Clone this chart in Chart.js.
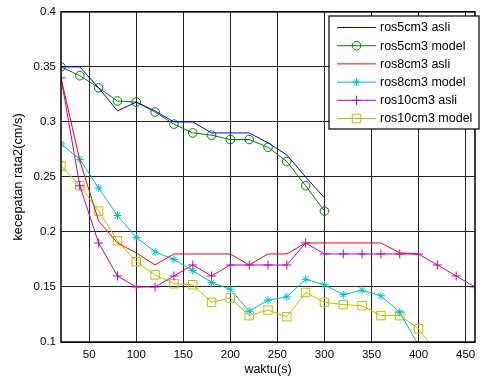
<!DOCTYPE html>
<html>
<head>
<meta charset="utf-8">
<script src="https://cdn.jsdelivr.net/npm/chart.js@4/dist/chart.umd.min.js"></script>
<style>
  html, body { margin: 0; padding: 0; background: #fff; }
  #wrap { width: 482px; height: 377px; position: relative; }
</style>
</head>
<body>
<div id="wrap"><canvas id="c" width="482" height="377"></canvas></div>
<script>
// ---- data ----
const time5 = [20,40,60,80,100,120,140,160,180,200,220,240,260,280,300];
const ros5Asli  = [0.35,0.35,0.331,0.31,0.318,0.31,0.30,0.30,0.29,0.29,0.29,0.281,0.27,0.25,0.231];
const ros5Model = [0.35,0.342,0.331,0.319,0.318,0.309,0.298,0.290,0.288,0.284,0.284,0.277,0.264,0.242,0.219];

const time8 = [20,40,60,80,100,120,140,160,180,200,220,240,260,280,300,320,340,360,380,400];
const ros8Asli  = [0.34,0.265,0.21,0.19,0.181,0.17,0.18,0.18,0.18,0.18,0.17,0.18,0.18,0.19,0.19,0.19,0.19,0.19,0.181,0.18];
const ros8Model = [0.28,0.266,0.240,0.215,0.195,0.182,0.175,0.165,0.154,0.148,0.128,0.138,0.141,0.157,0.152,0.143,0.147,0.142,0.127,0.097];

const time10a = [20,40,60,80,100,120,140,160,180,200,220,240,260,280,300,320,340,360,380,400,420,440,460];
const ros10Asli = [0.34,0.242,0.19,0.16,0.15,0.15,0.16,0.17,0.16,0.17,0.17,0.17,0.17,0.19,0.18,0.18,0.18,0.18,0.18,0.18,0.17,0.16,0.15];
const time10m = [20,40,60,80,100,120,140,160,180,200,220,240,260,280,300,320,340,360,380,400,420];
const ros10Model = [0.26,0.242,0.219,0.192,0.173,0.161,0.153,0.152,0.136,0.140,0.124,0.129,0.123,0.145,0.136,0.134,0.133,0.124,0.124,0.112,0.089];

const xTicks = [50,100,150,200,250,300,350,400,450];
const yTicks = [0.1,0.15,0.2,0.25,0.3,0.35,0.4];
const seriesNames = ['ros5cm3 asli','ros5cm3 model','ros8cm3 asli','ros8cm3 model','ros10cm3 asli','ros10cm3 model'];

function pts(xs, ys) { return xs.map((x, i) => ({x: x, y: ys[i]})); }

function ds(label, data, color, style, radius) {
  return {
    label: label, data: data,
    borderColor: color, backgroundColor: 'rgba(0,0,0,0)',
    borderWidth: 1, pointStyle: style || false,
    pointRadius: style ? radius : 0, pointBorderWidth: 1,
    pointBorderColor: color, pointBackgroundColor: 'rgba(0,0,0,0)',
    tension: 0, fill: false
  };
}

const datasets = [
  ds(seriesNames[0], pts(time5, ros5Asli),  '#0000ff', null, 0),
  ds(seriesNames[1], pts(time5, ros5Model), '#008000', 'circle', 4.3),
  ds(seriesNames[2], pts(time8, ros8Asli),  '#ff0000', null, 0),
  ds(seriesNames[3], pts(time8, ros8Model), '#00bfbf', 'star', 4),
  ds(seriesNames[4], pts(time10a, ros10Asli), '#bf00bf', 'cross', 4.5),
  ds(seriesNames[5], pts(time10m, ros10Model), '#bfbf00', 'rect', 6)
];

const FONT = 'Liberation Sans, Arial, Helvetica, sans-serif';

const boxPlugin = {
  id: 'boxPlugin',
  afterDraw(chart) {
    const ctx = chart.ctx, a = chart.chartArea;
    ctx.save();
    ctx.strokeStyle = '#000';
    ctx.lineWidth = 1.5;
    ctx.strokeRect(a.left, a.top, a.right - a.left, a.bottom - a.top);
    // legend
    const lx = 329, ly = 16, lw = 150, lh = 113;
    ctx.fillStyle = '#fff';
    ctx.fillRect(lx, ly, lw, lh);
    ctx.lineWidth = 1.2;
    ctx.strokeStyle = '#000';
    ctx.strokeRect(lx, ly, lw, lh);
    ctx.font = '12.5px ' + FONT;
    ctx.textBaseline = 'middle';
    ctx.textAlign = 'left';
    chart.data.datasets.forEach((d, i) => {
      const y = 27.5 + i * 18.2;
      ctx.strokeStyle = d.borderColor;
      ctx.lineWidth = 1;
      ctx.beginPath();
      ctx.moveTo(337, y); ctx.lineTo(376, y); ctx.stroke();
      if (d.pointStyle) {
        ctx.fillStyle = 'rgba(0,0,0,0)';
        ctx.strokeStyle = d.borderColor;
        Chart.helpers.drawPoint(ctx, {pointStyle: d.pointStyle, radius: d.pointRadius, borderWidth: 1, rotation: 0}, 356.5, y);
      }
      ctx.fillStyle = '#000';
      ctx.fillText(d.label, 380, y + 0.5);
    });
    ctx.restore();
  }
};

new Chart(document.getElementById('c'), {
  type: 'line',
  data: { datasets: datasets },
  options: {
    responsive: false, animation: false,
    layout: { padding: { top: 8, right: 1, left: 0, bottom: 0 } },
    plugins: { legend: { display: false }, tooltip: { enabled: false } },
    scales: {
      x: {
        type: 'linear', min: 20, max: 460,
        afterBuildTicks(s) { s.ticks = xTicks.map(v => ({value: v})); },
        afterFit(s) { s.height = 35; },
        grid: { color: '#222', lineWidth: 1, drawTicks: false },
        border: { display: false },
        ticks: { color: '#000', font: { family: FONT, size: 11.5 }, padding: 6, maxRotation: 0, callback: v => String(v) },
        title: { display: true, text: 'waktu(s)', color: '#000', font: { family: FONT, size: 12.5 }, padding: { top: 0, bottom: 0 } }
      },
      y: {
        type: 'linear', min: 0.1, max: 0.4,
        afterBuildTicks(s) { s.ticks = yTicks.map(v => ({value: v})); },
        afterFit(s) { s.width = 61; },
        grid: { color: '#222', lineWidth: 1, drawTicks: false },
        border: { display: false },
        ticks: { color: '#000', font: { family: FONT, size: 11.5 }, padding: 5, callback: v => String(Math.round(v * 100) / 100) },
        title: { display: true, text: 'kecepatan rata2(cm/s)', color: '#000', font: { family: FONT, size: 12.8 }, padding: { top: 11, bottom: 0 } }
      }
    }
  },
  plugins: [boxPlugin]
});
</script>
</body>
</html>
